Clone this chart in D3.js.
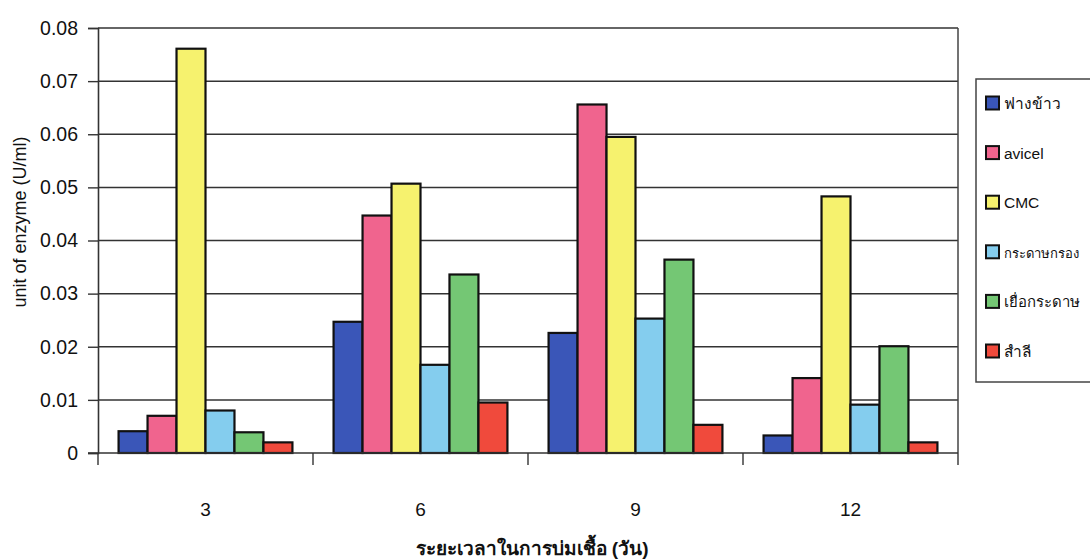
<!DOCTYPE html>
<html><head><meta charset="utf-8">
<script src="https://cdn.jsdelivr.net/npm/d3@7"></script>
<style>
html,body{margin:0;padding:0;background:#fff;overflow:hidden}
text{font-family:"Liberation Sans",Arial,"Noto Sans",sans-serif;fill:#111}
</style></head>
<body><svg id="c" width="1090" height="560"></svg>
<script>
const categories = ["3","6","9","12"];
const seriesNames = ["ฟางข้าว","avicel","CMC","กระดาษกรอง","เยื่อกระดาษ","สำลี"];
const seriesColors = ["#3a56b8","#f0648e","#f6f26e","#84cdee","#74c774","#f04a3c"];
const fangKhao   = [0.0041,0.0247,0.0226,0.0033];
const avicel     = [0.0070,0.0447,0.0656,0.0141];
const cmc        = [0.0761,0.0507,0.0595,0.0483];
const kradasKrong= [0.0080,0.0166,0.0253,0.0091];
const yueaKradas = [0.0039,0.0336,0.0364,0.0201];
const samlee     = [0.0020,0.0095,0.0053,0.0020];
const seriesValues = [fangKhao,avicel,cmc,kradasKrong,yueaKradas,samlee];
const yTicks = [0,0.01,0.02,0.03,0.04,0.05,0.06,0.07,0.08];
const xTitle = "ระยะเวลาในการบ่มเชื้อ (วัน)";
const yTitle = "unit of enzyme (U/ml)";

const svg = d3.select("#c");
const L=98, R=958, T=28, B=453;
const y = d3.scaleLinear().domain([0,0.08]).range([B,T]);
const x0 = d3.scaleBand().domain(categories).range([L,R]).padding(0);
const x1 = d3.scaleBand().domain(d3.range(seriesNames.length)).range([0,x0.bandwidth()]).paddingInner(0).paddingOuter(0.71);

// gridlines
svg.append("g").selectAll("line").data(yTicks.slice(1)).join("line")
  .attr("x1",L).attr("x2",R).attr("y1",d=>y(d)).attr("y2",d=>y(d))
  .attr("stroke","#333").attr("stroke-width",1.5);
// right border
svg.append("line").attr("x1",R).attr("x2",R).attr("y1",T).attr("y2",B).attr("stroke","#444").attr("stroke-width",1.5);

// bars
const g = svg.append("g");
categories.forEach((c,ci)=>{
  seriesValues.forEach((vals,si)=>{
    g.append("rect")
      .attr("x",x0(c)+x1(si)).attr("width",x1.bandwidth())
      .attr("y",y(vals[ci])).attr("height",B-y(vals[ci]))
      .attr("fill",seriesColors[si]).attr("stroke","#111").attr("stroke-width",2.2);
  });
});

// y axis
const yAxis = d3.axisLeft(y).tickValues(yTicks).tickFormat(d=>d===0?"0":d3.format(".2f")(d)).tickSize(10).tickPadding(10);
const ya = svg.append("g").attr("transform",`translate(${L},0)`).call(yAxis);
ya.select(".domain").attr("stroke","#333").attr("stroke-width",1.6);
ya.selectAll(".tick line").attr("stroke","#333").attr("stroke-width",1.4);
ya.selectAll(".tick text").style("font-size","19.5px").attr("fill","#222");

// x axis
const xa = svg.append("g").attr("transform",`translate(0,${B})`);
xa.append("line").attr("x1",L-10).attr("x2",R).attr("y1",0).attr("y2",0).attr("stroke","#333").attr("stroke-width",1.6);
const bounds = categories.map(c=>x0(c)).concat([R]);
xa.selectAll("line.tk").data(bounds).join("line").attr("class","tk")
  .attr("x1",d=>d).attr("x2",d=>d).attr("y1",0).attr("y2",12).attr("stroke","#333").attr("stroke-width",1.4);
xa.selectAll("text").data(categories).join("text")
  .attr("x",d=>x0(d)+x0.bandwidth()/2).attr("y",63).attr("text-anchor","middle")
  .style("font-size","19px").attr("fill","#222").text(d=>d);

// titles
svg.append("text").attr("x",532).attr("y",555).attr("text-anchor","middle")
  .style("font-size","19px").style("font-weight","bold").text(xTitle);
svg.append("text").attr("transform","translate(26,222) rotate(-90)").attr("text-anchor","middle")
  .style("font-size","18px").text(yTitle);

// legend
const lg = svg.append("g");
lg.append("rect").attr("x",976).attr("y",79).attr("width",140).attr("height",303)
  .attr("fill","#fff").attr("stroke","#444").attr("stroke-width",1.5);
seriesNames.forEach((n,i)=>{
  const cy = 103 + i*49.6;
  lg.append("rect").attr("x",986).attr("y",cy-6.5).attr("width",13).attr("height",13)
    .attr("fill",seriesColors[i]).attr("stroke","#111").attr("stroke-width",2);
  const t = lg.append("text").attr("x",1004).attr("y",cy+6).style("font-size","15.5px").attr("fill","#222").text(n);
  const w = t.node().getComputedTextLength();
  const avail = 1078 - 1004;
  if (w > avail) t.style("font-size", (15.5*avail/w).toFixed(2)+"px");
});
</script></body></html>
